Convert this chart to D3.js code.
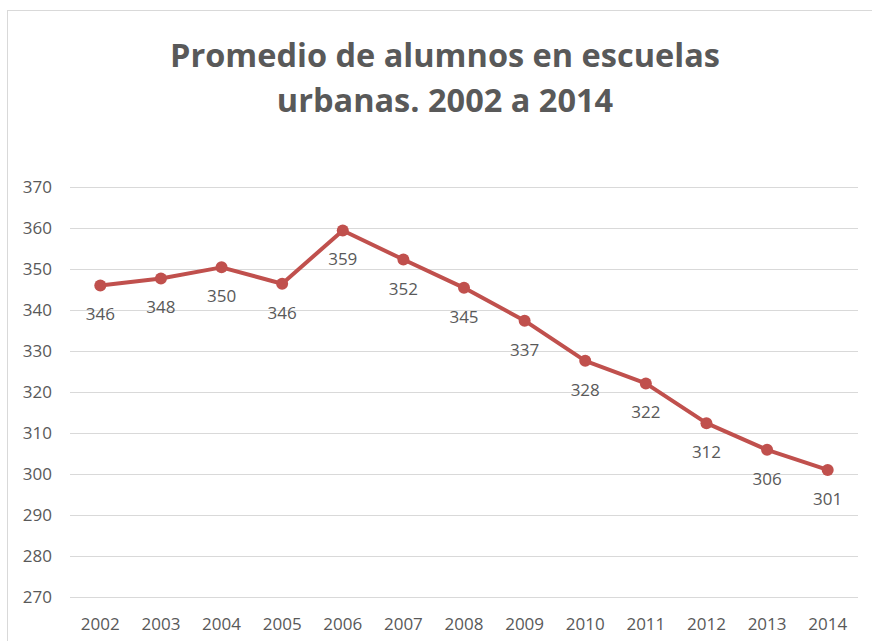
<!DOCTYPE html>
<html>
<head>
<meta charset="utf-8">
<script src="https://cdn.jsdelivr.net/npm/d3@7"></script>
<style>
  body { margin: 0; background: #fff; }
  text { font-family: "Open Sans", "Liberation Sans", sans-serif; fill: #595959; }
</style>
</head>
<body>
<svg id="chart" width="872" height="641"></svg>
<script>
// data
var years = ["2002","2003","2004","2005","2006","2007","2008","2009","2010","2011","2012","2013","2014"];
var alumnos = [346.0, 347.7, 350.4, 346.4, 359.4, 352.3, 345.4, 337.4, 327.6, 322.1, 312.4, 305.9, 301.0];
var yTicks = [270, 280, 290, 300, 310, 320, 330, 340, 350, 360, 370];
var titleLines = ["Promedio de alumnos en escuelas", "urbanas. 2002 a 2014"];

var svg = d3.select("#chart");

// chart frame
svg.append("rect")
	.attr("x", 7.5).attr("y", 10.5)
	.attr("width", 876).attr("height", 660)
	.attr("fill", "none")
	.attr("stroke", "#d9d9d9");

// title
svg.append("text")
	.attr("x", 445).attr("y", 67)
	.attr("text-anchor", "middle")
	.style("font-size", "32.5px")
	.style("font-weight", "bold")
	.selectAll("tspan")
	.data(titleLines)
	.enter().append("tspan")
	.attr("x", 445)
	.attr("dy", function(d, i) { return i ? 45 : 0; })
	.text(function(d) { return d; });

var x = d3.scaleBand().domain(years).range([70, 858]);
var y = d3.scaleLinear().domain([270, 370]).range([597, 187]);

// gridlines
svg.append("g")
	.selectAll("line")
	.data(yTicks)
	.enter().append("line")
	.attr("x1", 70).attr("x2", 858)
	.attr("y1", function(d) { return Math.round(y(d)) + 0.5; })
	.attr("y2", function(d) { return Math.round(y(d)) + 0.5; })
	.attr("stroke", "#d9d9d9")
	.attr("stroke-width", 1);

// y axis labels
var yAxis = svg.append("g")
	.attr("transform", "translate(52,0)")
	.call(d3.axisLeft(y).tickValues(yTicks).tickSize(0).tickPadding(0));
yAxis.select(".domain").remove();
yAxis.selectAll("text").style("font-size", "17px").attr("fill", "#595959");

// x axis labels
var xAxis = svg.append("g")
	.attr("transform", "translate(0,618)")
	.call(d3.axisBottom(x).tickSize(0).tickPadding(0));
xAxis.select(".domain").remove();
xAxis.selectAll("text").style("font-size", "17px").attr("fill", "#595959");

var cx = function(d, i) { return x(years[i]) + x.bandwidth() / 2; };

// line
var line = d3.line()
	.x(function(d, i) { return cx(d, i); })
	.y(function(d) { return y(d); });

svg.append("path")
	.datum(alumnos)
	.attr("d", line)
	.attr("fill", "none")
	.attr("stroke", "#c0504d")
	.attr("stroke-width", 4)
	.attr("stroke-linejoin", "round");

// markers
svg.append("g")
	.selectAll("circle")
	.data(alumnos)
	.enter().append("circle")
	.attr("cx", cx)
	.attr("cy", function(d) { return y(d); })
	.attr("r", 6)
	.attr("fill", "#c0504d");

// data labels, below the points
svg.append("g")
	.selectAll("text")
	.data(alumnos)
	.enter().append("text")
	.attr("x", cx)
	.attr("y", function(d) { return y(d) + 29; })
	.attr("dy", "0.35em")
	.attr("text-anchor", "middle")
	.style("font-size", "17px")
	.text(function(d) { return Math.round(d); });
</script>
</body>
</html>
